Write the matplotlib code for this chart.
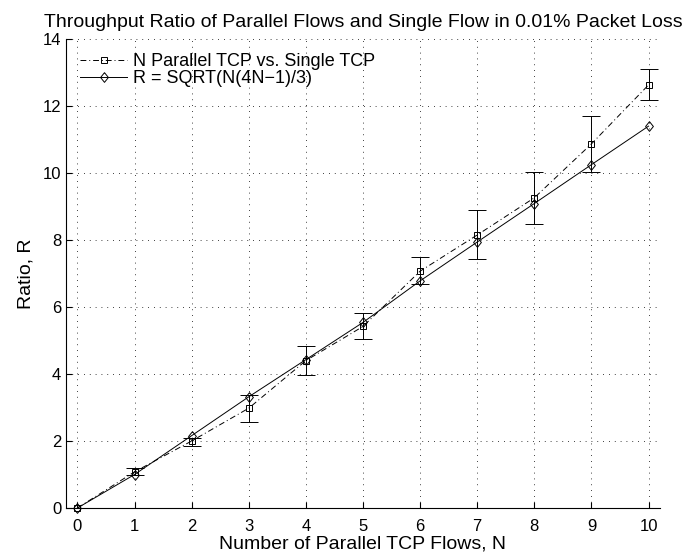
import matplotlib
matplotlib.use("Agg")
import matplotlib.pyplot as plt

plt.rcParams["font.family"] = ["Liberation Sans", "DejaVu Sans"]

# measured ratio, N parallel TCP flows vs. one flow
flows      = [0, 1, 2, 3, 4, 5, 6, 7, 8, 9, 10]
ratio      = [0.0, 1.08, 2.0, 2.98, 4.4, 5.42, 7.07, 8.15, 9.26, 10.87, 12.63]
err_low    = [0.0, 0.99, 1.85, 2.57, 3.98, 5.04, 6.69, 7.43, 8.48, 10.03, 12.18]
err_high   = [0.0, 1.19, 2.08, 3.37, 4.85, 5.83, 7.49, 8.9, 10.03, 11.7, 13.1]

# model curve R = sqrt(N(4N-1)/3)
model      = [0.0, 1.0, 2.16, 3.32, 4.43, 5.54, 6.78, 7.94, 9.09, 10.25, 11.4]

yerr = [[r - lo for r, lo in zip(ratio, err_low)],
        [hi - r for r, hi in zip(ratio, err_high)]]

# matlab-style diamond, a bit narrower than tall
diamond = [(0, 1), (0.8, 0), (0, -1), (-0.8, 0), (0, 1)]

fig = plt.figure(figsize=(6.91, 5.59), dpi=100)
ax = fig.add_axes([0.0955, 0.0912, 0.8596, 0.839])

ax.errorbar(flows, ratio, yerr=yerr, fmt="none", ecolor="black",
            elinewidth=0.7, capsize=6.5, capthick=0.7)
ax.plot(flows, ratio, color="black", linestyle=(0, (6, 3, 1, 3)), linewidth=0.7,
        marker="s", markersize=5, markerfacecolor="none", markeredgewidth=0.7,
        clip_on=False, label="N Parallel TCP vs. Single TCP")
ax.plot(flows, model, color="black", linestyle="-", linewidth=0.7,
        marker=diamond, markersize=7, markerfacecolor="none", markeredgewidth=0.7,
        clip_on=False, label="R = SQRT(N(4N\u22121)/3)")

ax.set_xlim(-0.2, 10.2)
ax.set_ylim(0, 14)
ax.set_xticks(range(0, 11))
ax.set_yticks(range(0, 15, 2))
ax.tick_params(direction="in", labelsize=12, length=4, width=0.8)
ax.tick_params(axis="x", pad=8)
ax.spines["top"].set_visible(False)
ax.spines["right"].set_visible(False)
ax.grid(True, linestyle=(0, (1, 6)), color="black", linewidth=0.6)

ax.set_xlabel("Number of Parallel TCP Flows, N", fontsize=14, labelpad=1)
ax.set_ylabel("Ratio, R", fontsize=14, labelpad=6)
ax.set_title("Throughput Ratio of Parallel Flows and Single Flow in 0.01% Packet Loss",
             fontsize=14, pad=9)

ax.legend(loc="upper left", frameon=False, fontsize=13, handlelength=2.6,
          borderaxespad=0.4, borderpad=0.4, handletextpad=0.3, labelspacing=0.0)

fig.savefig("out.png", dpi=100)
